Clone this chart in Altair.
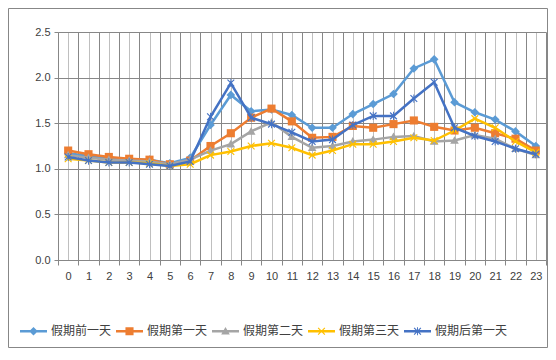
import altair as alt
import pandas as pd

hours = list(range(24))
series_names = ["假期前一天", "假期第一天", "假期第二天", "假期第三天", "假期后第一天"]
s1 = [1.17, 1.14, 1.11, 1.10, 1.10, 1.06, 1.12, 1.48, 1.81, 1.63, 1.65, 1.59,
      1.45, 1.45, 1.60, 1.71, 1.82, 2.10, 2.20, 1.73, 1.62, 1.54, 1.41, 1.25]
s2 = [1.20, 1.16, 1.13, 1.11, 1.10, 1.05, 1.09, 1.25, 1.39, 1.56, 1.66, 1.52,
      1.34, 1.35, 1.47, 1.45, 1.49, 1.53, 1.46, 1.42, 1.45, 1.39, 1.33, 1.20]
s3 = [1.15, 1.12, 1.10, 1.09, 1.08, 1.05, 1.10, 1.20, 1.27, 1.41, 1.51, 1.35,
      1.23, 1.25, 1.30, 1.32, 1.35, 1.36, 1.30, 1.31, 1.37, 1.33, 1.22, 1.15]
s4 = [1.11, 1.09, 1.07, 1.07, 1.06, 1.03, 1.05, 1.15, 1.19, 1.25, 1.28, 1.23,
      1.15, 1.20, 1.27, 1.27, 1.30, 1.34, 1.31, 1.42, 1.55, 1.45, 1.30, 1.18]
s5 = [1.13, 1.09, 1.07, 1.07, 1.05, 1.03, 1.08, 1.57, 1.94, 1.56, 1.49, 1.40,
      1.30, 1.32, 1.48, 1.58, 1.58, 1.77, 1.95, 1.45, 1.36, 1.30, 1.22, 1.16]
series_values = [s1, s2, s3, s4, s5]
colors = ["#5B9BD5", "#ED7D31", "#A5A5A5", "#FFC000", "#4472C4"]
y_ticks = [0.0, 0.5, 1.0, 1.5, 2.0, 2.5]
x_grid_values = [i / 2 - 0.5 for i in range(49)]

rows = []
for name, vals in zip(series_names, series_values):
    for h, v in zip(hours, vals):
        rows.append({"hour": h, "value": v, "series": name})
df = pd.DataFrame(rows)

# marker shapes (unit square paths)
X_PATH = ("M-0.28,-0.22L0.22,0.28L0.28,0.22L-0.22,-0.28Z"
          "M0.22,-0.28L-0.28,0.22L-0.22,0.28L0.28,-0.22Z")
marker_paths = [
    "M0,-0.32L-0.32,0L0,0.32L0.32,0Z",
    "M-0.3,-0.3V0.3H0.3V-0.3Z",
    "M0,-0.32L-0.32,0.24L0.32,0.24Z",
    X_PATH,
    X_PATH + "M-0.035,-0.3V0.3H0.035V-0.3Z",
]
LINE_PATH = "M-1,-0.09V0.09H1V-0.09Z"
legend_paths = [LINE_PATH + p for p in marker_paths]

GRID_DARK = "#878787"
GRID_LIGHT = "#bfbfbf"
LABEL_COLOR = "#404040"
IS_INT = "abs(datum.value - round(datum.value)) < 0.01"

xscale = alt.Scale(domain=[-0.5, 23.5], nice=False, zero=False)
yscale = alt.Scale(domain=[0, 2.5], nice=False)
cscale = alt.Scale(domain=series_names, range=colors)
sscale = alt.Scale(domain=series_names, range=legend_paths)

x_axis = alt.Axis(
    values=x_grid_values,
    title=None,
    format=".0f",
    labelOverlap=False,
    labelFont="Liberation Sans",
    labelFontSize=11,
    labelColor=LABEL_COLOR,
    labelOpacity={"condition": {"test": IS_INT, "value": 1}, "value": 0},
    labelPadding=5,
    grid=True,
    gridColor={"condition": {"test": IS_INT, "value": GRID_LIGHT},
               "value": GRID_DARK},
    ticks=True,
    tickSize=5,
    tickColor=GRID_DARK,
    tickOpacity={"condition": {"test": IS_INT, "value": 0}, "value": 1},
    domainColor=GRID_DARK,
)
y_axis = alt.Axis(
    values=y_ticks,
    title=None,
    format=".1f",
    labelFont="Liberation Sans",
    labelFontSize=11,
    labelColor=LABEL_COLOR,
    labelPadding=4,
    grid=True,
    gridColor=GRID_DARK,
    tickSize=4,
    tickColor=GRID_DARK,
    domainColor=GRID_DARK,
)

legend = alt.Legend(
    orient="none",
    legendX=-38,
    legendY=285.5,
    direction="horizontal",
    title=None,
    symbolSize=729,
    symbolStrokeWidth=0,
    symbolOpacity=1,
    labelFont="Noto Sans CJK SC",
    labelFontSize=12,
    labelColor=LABEL_COLOR,
    labelOffset=4,
    columnPadding=4,
    padding=0,
    labelLimit=300,
)

X = alt.X("hour:Q", scale=xscale, axis=x_axis)
Y = alt.Y("value:Q", scale=yscale, axis=y_axis)
C = alt.Color("series:N", scale=cscale, legend=legend)

layers = []
for i, name in enumerate(series_names):
    line = alt.Chart(df).transform_filter(alt.datum.series == name).mark_line(
        strokeWidth=2.5
    ).encode(x=X, y=Y, color=C)
    pts = alt.Chart(df).transform_filter(alt.datum.series == name).mark_point(
        shape=marker_paths[i], filled=True, opacity=1, size=729, strokeWidth=0
    ).encode(x=X, y=Y, color=C)
    layers += [line, pts]

legend_layer = alt.Chart(df).transform_filter("datum.value < 0").mark_point(
    filled=True, opacity=1, size=729, strokeWidth=0
).encode(
    x=X, y=Y, color=C,
    shape=alt.Shape("series:N", scale=sscale, legend=legend),
)
layers.append(legend_layer)

border = alt.Chart(alt.Data(values=[{"a": 1}])).mark_rect(
    fill="transparent", stroke=GRID_DARK, strokeWidth=1
).encode(
    x=alt.value(-49.5), x2=alt.value(489.5),
    y=alt.value(-23.5), y2=alt.value(315.5),
)
layers.append(border)

chart = alt.layer(*layers).properties(
    width=488,
    height=228,
    padding={"left": 50, "top": 24, "right": 2, "bottom": 88},
    autosize=alt.AutoSizeParams(type="none"),
    background="white",
).configure_view(stroke=None)

chart.save("out.html", embed_options={"renderer": "svg", "actions": False})
